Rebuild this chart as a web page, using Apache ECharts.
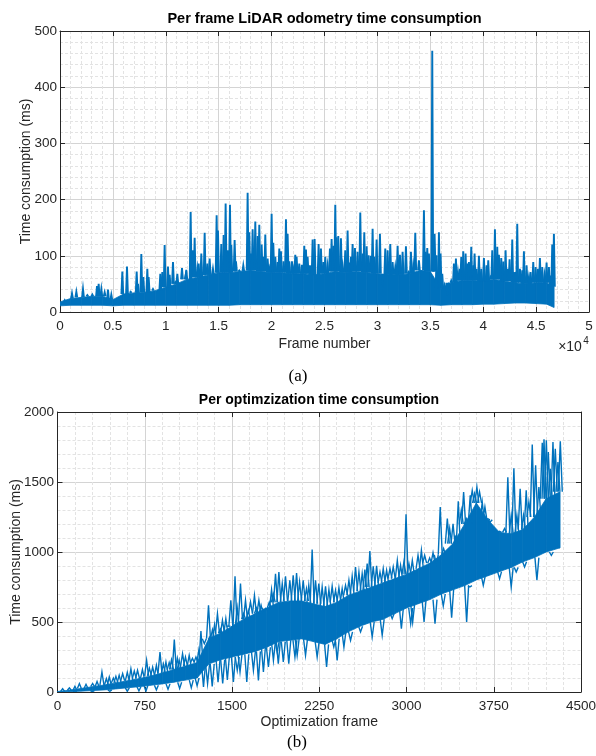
<!DOCTYPE html>
<html><head><meta charset="utf-8">
<script src="https://cdn.jsdelivr.net/npm/echarts@6/dist/echarts.min.js"></script>
<style>html,body{margin:0;padding:0;background:#fff}#c{width:596px;height:756px}</style>
</head><body><div id="c"></div>
<script>
// ---------- (a) per-frame LiDAR odometry ----------
const odomTitle = 'Per frame LiDAR odometry time consumption';
const odomXName = 'Frame number';
const yName = 'Time consumption (ms)';
// band: solid region (lower edge, top edge) read per 1000 frames
const odomBinFrames = [0,1000,2000,3000,4000,5000,6000,7000,8000,9000,10000,11000,12000,13000,14000,15000,16000,17000,18000,19000,20000,21000,22000,23000,24000,25000,26000,27000,28000,29000,30000,31000,32000,33000,34000,35000,36000,37000,38000,39000,40000,41000,42000,43000,44000,45000,46000,46700];
const odomLow = [11,12,12,12,12,11,12,12,12,12,12,12,12,12,12,12,12,13,13,13,13,13,13,13,13,13,13,13,13,13,13,13,13,13,13,13,12,13,13,13,14,14,15,16,16,15,14,8];
const odomBandTop = [18,24,26,28,28,22,32,34,35,38,44,50,58,62,66,70,70,72,74,72,70,70,68,68,66,68,72,70,72,70,68,66,66,68,74,72,42,52,56,56,55,58,55,52,50,52,52,45];
// individual spikes (frame, peak ms)
const odomSpikeFrames = [444,1134,1545,2173,2585,3055,3497,3654,3906,4221,4536,4850,5891,6332,6680,7247,7371,7686,7875,8253,8379,8788,9261,9481,9670,9891,10206,10364,10679,10900,11089,11530,11876,11939,12349,12570,12727,12979,13105,13357,13672,13924,14144,14459,14805,14931,15246,15466,15655,15876,16065,16191,16506,
16632,16947,17325,17734,17892,18049,18207,18459,18679,18837,19057,19246,19404,19624,19782,20002,20160,20349,20569,20727,20884,21136,21357,21514,21672,21924,22050,22239,22365,22617,22869,23089,23247,23404,23625,23877,24066,24192,24444,24664,24885,25074,25294,25515,25672,25830,26019,26145,26302,26554,26712,26964,27184,27342,27500,27657,27878,28130,28382,28602,28759,28980,29169,29389,29547,29704,29925,30240,30492,30744,30964,31216,31437,31689,31909,32130,32382,32697,32949,33169,33390,33579,
33925,34146,34398,34555,34713,34870,35185,35280,35406,35595,35815,35973,36130,36351,36603,36760,36981,37233,37422,37611,37800,37926,38115,38336,38493,38651,38871,39060,39186,39375,39596,39816,40068,40320,40478,40698,40856,41108,41328,41486,41706,41895,42116,42336,42494,42746,42903,43061,43218,43470,43691,43848,44100,44321,44478,44730,44951,45171,45360,45581,45801,45990,46211,46368,46526,46683];
const odomSpikePeaks = [21,33,36,41,30,31,46,50,41,35,40,31,72,81,36,72,50,103,62,77,62,41,38,68,71,119,81,66,89,53,68,78,66,75,178,110,132,77,86,104,141,86,95,77,172,145,121,137,193,110,191,119,128,
90,74,83,212,142,104,147,161,135,155,120,98,138,95,78,175,123,98,89,113,108,90,165,139,90,90,77,102,98,86,84,118,111,98,83,129,130,59,121,113,89,98,83,113,130,118,191,133,135,131,83,110,145,88,98,121,114,107,177,104,142,117,101,100,148,98,129,139,53,113,110,121,89,80,118,102,107,117,71,107,83,141,
92,68,181,107,114,104,465,88,139,101,142,104,68,48,30,48,56,86,95,71,77,98,108,104,86,89,116,83,104,77,100,77,96,83,92,62,110,147,116,102,96,90,110,77,94,129,71,71,157,77,74,108,83,62,71,89,80,77,96,80,66,88,80,65,120,139];

// ---------- (b) per optimization ----------
const optTitle = 'Per optimzization time consumption';
const optXName = 'Optimization frame';
const optBinFrames = [0,100,200,300,400,500,600,700,800,900,1000,1100,1200,1300,1400,1500,1600,1700,1800,1900,2000,2100,2200,2300,2400,2500,2600,2700,2800,2900,3000,3100,3200,3300,3400,3500,3600,3700,3800,3900,4000,4100,4200,4320];
const optCoreLo = [0,2,6,10,15,22,30,38,48,58,70,85,100,200,230,250,270,290,320,360,370,380,360,340,380,430,470,500,520,560,600,630,660,700,730,760,800,830,860,890,930,960,1000,1030];
const optCoreHi = [4,12,25,38,50,65,80,95,115,135,160,185,210,380,420,470,520,560,600,640,650,650,630,610,640,690,720,750,780,810,840,880,920,980,1060,1200,1350,1230,1140,1130,1160,1250,1380,1430];
const optPeakFrames = [44,102,150,188,245,302,340,382,420,445,480,502,530,560,600,631,660,688,730,766,790,818,850,881,910,932,960,980,1004,1030,1046,1075,1100,1132,1160,1190,1215,1233,1262,1298,1315,1332,1350,1375,1400,1418,1447,1470,1490,
1526,1545,1573,1600,1616,1640,1659,1693,1710,1731,1750,1774,1802,1820,1840,1855,1874,1903,1932,1960,1997,2026,2055,2081,2112,2140,2160,2189,2218,2246,2275,2304,2333,2361,2390,2419,2447,2476,2505,2533,2562,2591,2619,2642,2662,2685,2714,2743,2772,2800,2829,2858,2886,2921,2949,2978,2996,3021,3050,
3099,3128,3156,3199,3228,3256,3290,3319,3351,3371,3400,3422,3445,3471,3491,3514,3548,3565,3585,3605,3628,3651,3674,3700,3720,3757,3800,3843,3871,3900,3923,3949,3977,4006,4029,4052,4081,4110,4138,4167,4182,4202,4219,4236,4259,4279,4302,4322];
const optPeakVals = [24,29,40,60,55,60,75,143,95,107,100,112,120,131,140,166,150,155,160,226,170,178,190,286,200,214,210,230,374,240,226,274,250,262,240,250,300,436,345,619,400,445,480,560,450,512,524,470,655,
826,600,774,560,655,580,643,690,600,655,620,583,588,640,731,700,845,857,774,826,798,833,850,786,798,738,762,1017,798,774,750,755,731,755,726,745,738,762,798,826,893,857,845,874,917,1007,898,902,857,881,869,881,893,940,905,929,1269,917,940,
976,1012,976,957,995,917,1322,1024,1238,1167,1202,1107,1362,1298,1429,1238,1405,1440,1417,1464,1429,1357,1322,1238,1214,1167,1148,1167,1533,1262,1598,1262,1452,1262,1440,1357,1767,1619,1464,1781,1805,1798,1714,1595,1786,1738,1643,1790];
const optDipFrames = [150,300,450,600,700,760,850,950,1050,1150,1200,1255,1290,1330,1380,1420,1460,1512,1545,1569,1627,1684,1727,1770,1813,1856,1888,1898,1941,1988,2041,2060,2132,2232,2313,2375,2404,2462,2519,2605,2705,2791,2877,2956,3036,3053,3151,3245,3316,3388,3517,3545,3660,3800,3900,3943,4015,4121,4173,4245,4302];
const optDipVals = [0,2,5,5,8,5,15,20,25,30,45,36,60,40,70,62,86,71,155,143,71,155,83,143,179,226,286,202,214,202,250,262,262,250,179,321,226,321,369,429,393,405,524,453,488,500,500,488,614,531,500,750,762,809,750,857,893,798,1000,976,1036];

const BLUE = '#0072BD';
const TXT = '#262626';
const FONT = "'Liberation Sans', Arial, Helvetica, sans-serif";

function nearestIdx(frames, f) {
  let best = 0, bd = Infinity;
  for (let i = 0; i < frames.length; i++) { const d = Math.abs(frames[i] - f); if (d < bd) { bd = d; best = i; } }
  return best;
}
function spikeRenderer(w, lw) {
  return function (params, api) {
    const f = api.value(0), b = api.value(1), p = api.value(2);
    const pts = [api.coord([f - w, b]), api.coord([f, p]), api.coord([f + w, b])];
    return { type: 'polyline', shape: { points: pts }, style: { stroke: BLUE, lineWidth: lw, fill: null } };
  };
}
function bandRenderer(params, api) {
  const f0 = api.value(0), lo0 = api.value(1), hi0 = api.value(2);
  const f1 = api.value(3), lo1 = api.value(4), hi1 = api.value(5);
  const pts = [api.coord([f0, lo0]), api.coord([f1, lo1]), api.coord([f1, hi1]), api.coord([f0, hi0])];
  return { type: 'polygon', shape: { points: pts }, style: { fill: BLUE, stroke: BLUE, lineWidth: 0.8 } };
}
function bandData(frames, lo, hi) {
  const out = [];
  for (let i = 0; i < frames.length - 1; i++) out.push([frames[i], lo[i], hi[i], frames[i + 1], lo[i + 1], hi[i + 1]]);
  return out;
}

const odomSpikeData = odomSpikeFrames.map((f, i) => [f, odomBandTop[nearestIdx(odomBinFrames, f)], odomSpikePeaks[i]]);
const optPeakData = optPeakFrames.map((f, i) => [f, optCoreHi[nearestIdx(optBinFrames, f)], optPeakVals[i]]);
const optDipData = optDipFrames.map((f, i) => [f, optCoreLo[nearestIdx(optBinFrames, f)], optDipVals[i]]);

const majorSplit = { show: true, lineStyle: { color: '#d4d4d4', width: 1 } };
const minorSplit = { show: true, lineStyle: { color: '#e3e3e3', width: 1, type: [3, 2] } };
const labelStyle = { color: TXT, fontSize: 13.5, fontFamily: FONT };
const nameStyle = { color: TXT, fontSize: 14, fontFamily: FONT };

function mainAxis(grid, min, max, interval, pos, fmt, name, gap, margin) {
  return {
    gridIndex: grid, type: 'value', min, max, interval, position: pos,
    axisLine: { show: true, onZero: false, lineStyle: { color: TXT, width: 1 } },
    axisTick: { show: true, inside: true, length: 5, lineStyle: { color: TXT } },
    axisLabel: Object.assign({ margin, formatter: fmt }, labelStyle),
    splitLine: majorSplit,
    minorTick: { show: false, splitNumber: 5 },
    minorSplitLine: minorSplit,
    name, nameLocation: 'middle', nameGap: gap, nameTextStyle: nameStyle, nameMoveOverlap: false
  };
}
function mirrorAxis(grid, min, max, interval, pos) {
  return {
    gridIndex: grid, type: 'value', min, max, interval, position: pos,
    axisLine: { show: true, onZero: false, lineStyle: { color: TXT, width: 1 } },
    axisTick: { show: true, inside: true, length: 5, lineStyle: { color: TXT } },
    axisLabel: { show: false }, splitLine: { show: false }
  };
}
function txt(x, y, text, font, fill) {
  return { type: 'text', x, y, silent: true,
    style: { text, font, fill: fill || '#000', align: 'center', verticalAlign: 'middle', textAlign: 'center', textVerticalAlign: 'middle' } };
}

const chart = echarts.init(document.getElementById('c'), null, { renderer: 'canvas' });
chart.setOption({
  animation: false,
  backgroundColor: '#fff',
  grid: [
    { left: 60, top: 31, width: 529, height: 281, outerBoundsMode: 'none', containLabel: false },
    { left: 57.5, top: 412, width: 523.5, height: 280, outerBoundsMode: 'none', containLabel: false }
  ],
  xAxis: [
    mainAxis(0, 0, 50000, 5000, 'bottom', v => String(v / 10000), odomXName, 25, 7),
    mirrorAxis(0, 0, 50000, 5000, 'top'),
    mainAxis(1, 0, 4500, 750, 'bottom', v => String(v), optXName, 23, 7),
    mirrorAxis(1, 0, 4500, 750, 'top')
  ],
  yAxis: [
    mainAxis(0, 0, 500, 100, 'left', v => String(v), yName, 27, 3),
    mirrorAxis(0, 0, 500, 100, 'right'),
    mainAxis(1, 0, 2000, 500, 'left', v => String(v), yName, 34, 3.5),
    mirrorAxis(1, 0, 2000, 500, 'right')
  ],
  series: [
    { type: 'custom', xAxisIndex: 0, yAxisIndex: 0, renderItem: bandRenderer,
      encode: { x: [0, 3], y: [1, 2, 4, 5] }, data: bandData(odomBinFrames, odomLow, odomBandTop), clip: true },
    { type: 'custom', xAxisIndex: 0, yAxisIndex: 0, renderItem: spikeRenderer(85, 1.9),
      encode: { x: 0, y: [1, 2] }, data: odomSpikeData, clip: true },
    { type: 'custom', xAxisIndex: 2, yAxisIndex: 2, renderItem: bandRenderer,
      encode: { x: [0, 3], y: [1, 2, 4, 5] }, data: bandData(optBinFrames, optCoreLo, optCoreHi), clip: true },
    { type: 'custom', xAxisIndex: 2, yAxisIndex: 2, renderItem: spikeRenderer(17, 1.4),
      encode: { x: 0, y: [1, 2] }, data: optPeakData, clip: true },
    { type: 'custom', xAxisIndex: 2, yAxisIndex: 2, renderItem: spikeRenderer(17, 1.4),
      encode: { x: 0, y: [1, 2] }, data: optDipData, clip: true }
  ],
  graphic: [
    txt(324.5, 19, odomTitle, "bold 14.5px " + FONT),
    txt(319, 400, optTitle, "bold 14px " + FONT),
    txt(570, 347, '×10', "14px " + FONT, TXT),
    txt(586, 341, '4', "10px " + FONT, TXT),
    txt(298, 377, '(a)', "17px 'Liberation Serif', 'Times New Roman', serif"),
    txt(297, 743, '(b)', "17px 'Liberation Serif', 'Times New Roman', serif")
  ]
});
</script></body></html>
